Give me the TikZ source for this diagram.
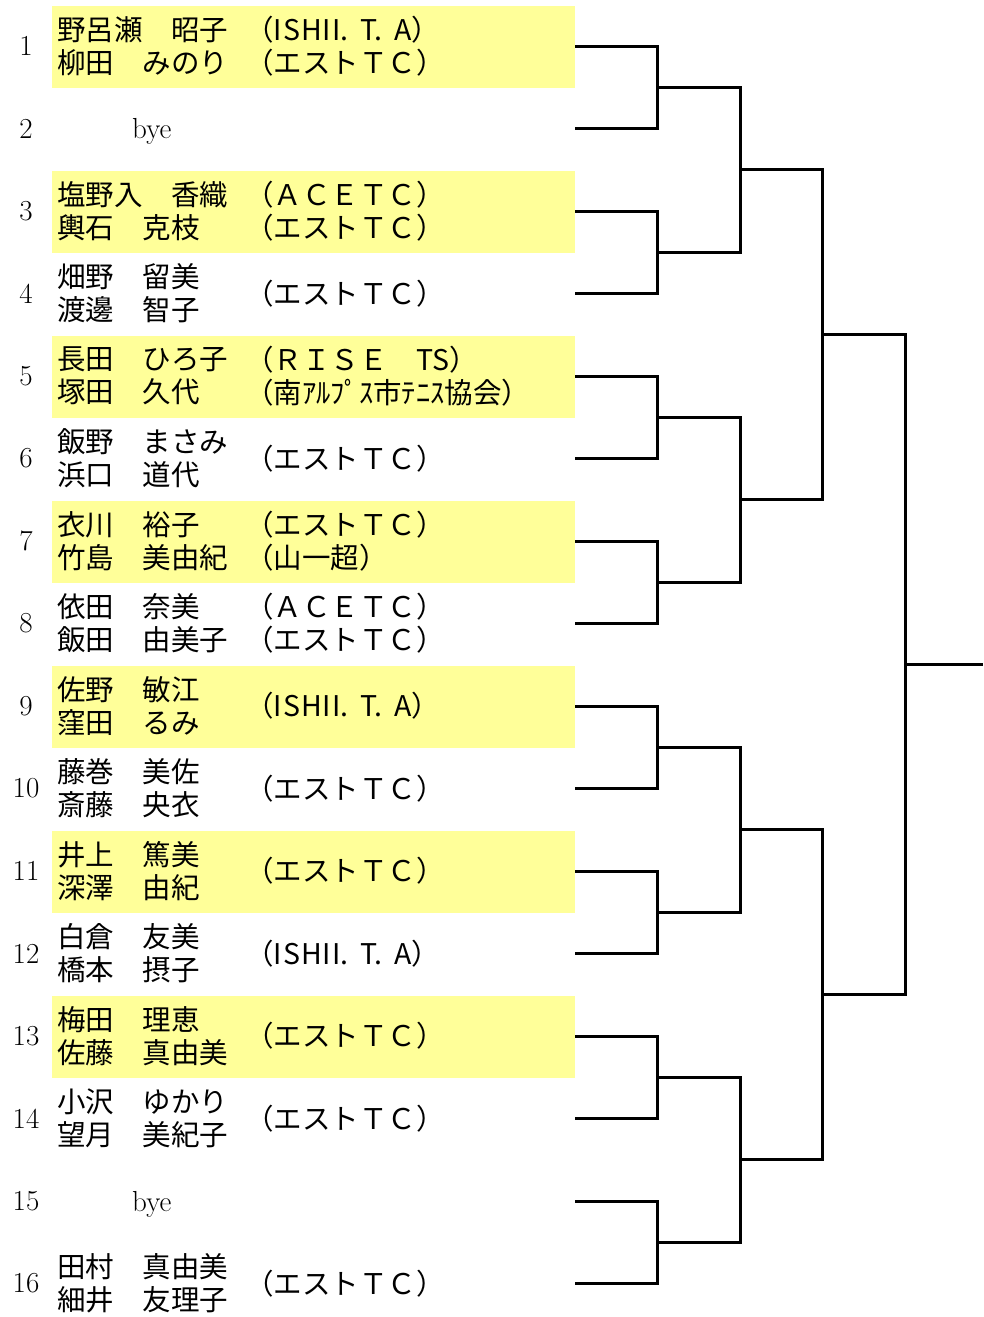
\documentclass[tikz,border=0pt]{standalone}
\usepackage{fontspec}
\newfontfamily\jp{Noto Sans CJK JP}
\usetikzlibrary{calc}
\definecolor{seedyellow}{RGB}{255,255,153}
\tikzset{
  bline/.style={line width=3pt, line join=miter},
  seedbox/.style={fill=seedyellow, draw=none},
  numlabel/.style={anchor=center, inner sep=0pt, font=\fontsize{29}{33}\selectfont},
  namelabel/.style={anchor=west, inner sep=0pt, align=left, font=\jp\fontsize{28.5}{33}\selectfont},
  clublabel/.style={anchor=west, inner sep=0pt, align=left, font=\jp\fontsize{28.5}{33}\selectfont},
  byelabel/.style={anchor=west, inner sep=0pt, font=\fontsize{29}{33}\selectfont},
}
\newcommand{\pl}[4]{%
  \node[namelabel] (p#1) at ($(s#1)+(-518,0)$) {#2};
  \node[clublabel] (c#1) at ($(s#1)+(-330,0)$) {#3};
}
\newcommand{\ishii}{（I\hspace{1pt}S\hspace{1pt}H\hspace{1pt}I\hspace{1pt}I.\hspace{12pt}T.\hspace{12pt}A）}
\begin{document}
\begin{tikzpicture}[x=1pt, y=-1pt]
\useasboundingbox (0,0) rectangle (983,1317);
% slot coordinates
\foreach \i in {1,...,16} {
  \pgfmathsetmacro\yy{46+82.5*(\i-1)}
  \coordinate (s\i) at (575,\yy);
}
% yellow seed boxes
\foreach \i in {1,3,5,7,9,11,13} {
  \fill[seedbox] ($(s\i)+(-523,-40.5)$) rectangle ($(s\i)+(0,42)$);
}
% numbers
\foreach \i in {1,...,16} {
  \node[numlabel] (n\i) at ($(s\i)+(-549,0)$) {\i};
}
% names
\pl{1}{野呂瀬　昭子\\柳田　みのり}{\ishii\\（エストＴＣ）}{}
\node[byelabel] (b2) at ($(s2)+(-443,3)$) {bye};
\pl{3}{塩野入　香織\\輿石　克枝}{（ＡＣＥＴＣ）\\（エストＴＣ）}{}
\pl{4}{畑野　留美\\渡邊　智子}{（エストＴＣ）}{}
\pl{5}{長田　ひろ子\\塚田　久代}{（ＲＩＳＥ　TS）\\（南ｱﾙﾌﾟｽ市ﾃﾆｽ協会）}{}
\pl{6}{飯野　まさみ\\浜口　道代}{（エストＴＣ）}{}
\pl{7}{衣川　裕子\\竹島　美由紀}{（エストＴＣ）\\（山一超）}{}
\pl{8}{依田　奈美\\飯田　由美子}{（ＡＣＥＴＣ）\\（エストＴＣ）}{}
\pl{9}{佐野　敏江\\窪田　るみ}{\ishii}{}
\pl{10}{藤巻　美佐\\斎藤　央衣}{（エストＴＣ）}{}
\pl{11}{井上　篤美\\深澤　由紀}{（エストＴＣ）}{}
\pl{12}{白倉　友美\\橋本　摂子}{\ishii}{}
\pl{13}{梅田　理恵\\佐藤　真由美}{（エストＴＣ）}{}
\pl{14}{小沢　ゆかり\\望月　美紀子}{（エストＴＣ）}{}
\node[byelabel] (b15) at ($(s15)+(-443,3)$) {bye};
\pl{16}{田村　真由美\\細井　友理子}{（エストＴＣ）}{}
% round 1
\foreach \j in {1,...,8} {
  \pgfmathtruncatemacro\a{2*\j-1}
  \pgfmathtruncatemacro\b{2*\j}
  \coordinate (ra\j) at ($(s\a)!.5!(s\b)+(82,0)$);
  \draw[bline] (s\a) -| (ra\j);
  \draw[bline] (s\b) -| (ra\j);
}
% round 2
\foreach \j in {1,...,4} {
  \pgfmathtruncatemacro\a{2*\j-1}
  \pgfmathtruncatemacro\b{2*\j}
  \coordinate (rb\j) at ($(ra\a)!.5!(ra\b)+(83,0)$);
  \draw[bline] (ra\a) -| (rb\j);
  \draw[bline] (ra\b) -| (rb\j);
}
% round 3
\foreach \j in {1,2} {
  \pgfmathtruncatemacro\a{2*\j-1}
  \pgfmathtruncatemacro\b{2*\j}
  \coordinate (rc\j) at ($(rb\a)!.5!(rb\b)+(82,0)$);
  \draw[bline] (rb\a) -| (rc\j);
  \draw[bline] (rb\b) -| (rc\j);
}
% final
\coordinate (rd) at ($(rc1)!.5!(rc2)+(83,0)$);
\draw[bline] (rc1) -| (rd);
\draw[bline] (rc2) -| (rd);
\coordinate (champ) at ($(rd)+(78,0)$);
\draw[bline] (rd) -- (champ);
\end{tikzpicture}
\end{document}
